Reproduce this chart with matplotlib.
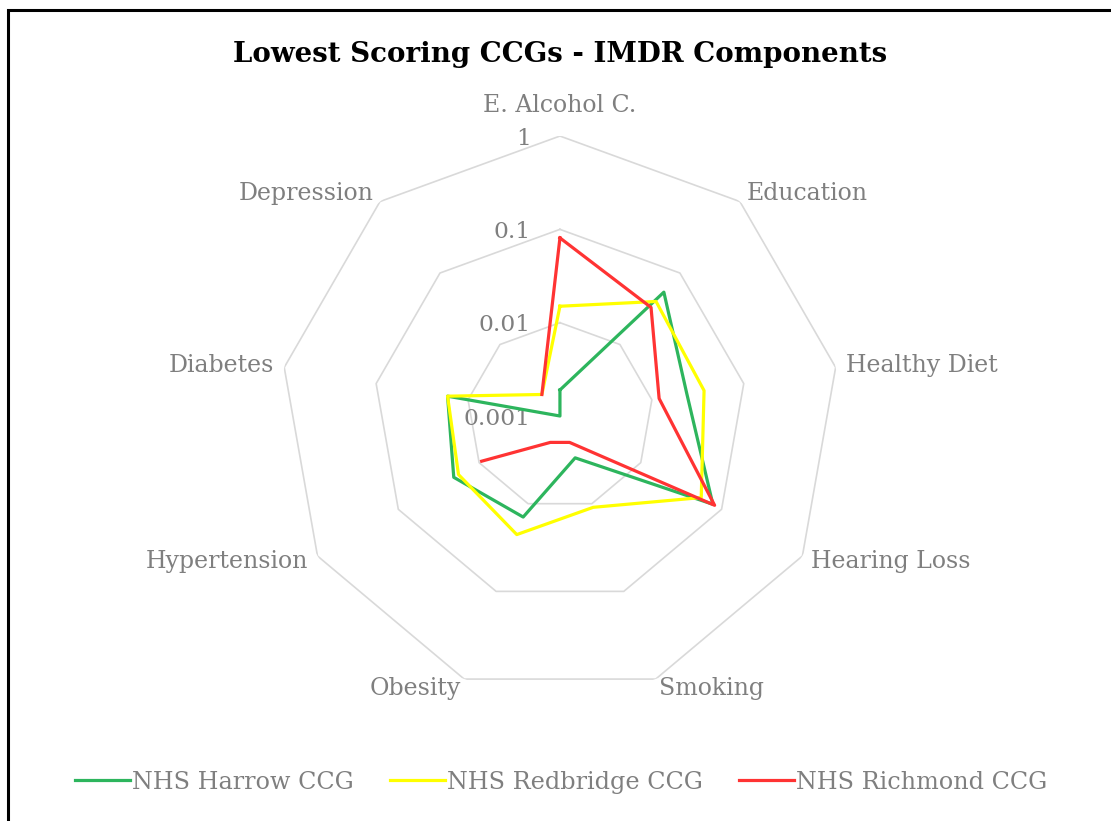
import numpy as np
import matplotlib
matplotlib.use('Agg')
import matplotlib.pyplot as plt
from matplotlib.patches import Rectangle

# categories (clockwise from top) and component scores per CCG
categories = ['E. Alcohol C.', 'Education', 'Healthy Diet', 'Hearing Loss', 'Smoking',
              'Obesity', 'Hypertension', 'Diabetes', 'Depression']
harrow = [0.0019, 0.054, 0.024, 0.078, 0.0030, 0.0142, 0.0206, 0.0167, 0.001]
redbridge = [0.015, 0.040, 0.037, 0.056, 0.011, 0.0225, 0.018, 0.0167, 0.002]
richmond = [0.081, 0.033, 0.012, 0.082, 0.002, 0.002, 0.0093, np.nan, 0.002]

series_names = ['NHS Harrow CCG', 'NHS Redbridge CCG', 'NHS Richmond CCG']
series_colors = ['#2db55d', '#ffff00', '#ff3333']
ring_values = [1, 0.1, 0.01, 0.001]
ring_labels = ['1', '0.1', '0.01', '0.001']

plt.rcParams['font.family'] = ['DejaVu Serif']
grey = '#7f7f7f'

fig = plt.figure(figsize=(11.11, 8.21), dpi=100)
ax = fig.add_axes([0.252, 0.1523, 0.504, 0.682], projection='polar')
ax.set_theta_zero_location('N')
ax.set_theta_direction(-1)

n = len(categories)
theta = np.arange(n) * 2 * np.pi / n
theta_c = np.append(theta, theta[0])

rmin = np.log10(ring_values[-1])
ax.set_ylim(rmin, 0)

# polygon rings (no ring drawn at the centre value)
for v in ring_values[:-1]:
    ax.plot(theta_c, np.full(n + 1, np.log10(v)), color='#d9d9d9', lw=1.2, zorder=1)

# ring labels along the top spoke
for v, lab in zip(ring_values, ring_labels):
    ax.annotate(lab, xy=(0, np.log10(v)), xytext=(-21, -2), textcoords='offset points',
                ha='right', va='center', fontsize=16.8, color=grey, annotation_clip=False)

# series
for vals, name, col in zip([harrow, redbridge, richmond], series_names, series_colors):
    r = np.log10(np.array(vals + [vals[0]], dtype=float))
    ax.plot(theta_c, r, color=col, lw=2.3, label=name, zorder=3)

# category labels just outside the outer ring
for t, cat in zip(theta, categories):
    dx, dy = np.sin(t), np.cos(t)
    if abs(dx) < 1e-6:
        ha, off = 'center', 22
    elif dx > 0:
        ha, off = 'left', 7.5
    else:
        ha, off = 'right', 7.5
    ax.annotate(cat, xy=(t, 0), xytext=(dx * off, dy * off), textcoords='offset points',
                ha=ha, va='center', fontsize=17, color=grey, annotation_clip=False)

ax.grid(False)
ax.spines['polar'].set_visible(False)
ax.set_xticks([])
ax.set_yticks([])
ax.patch.set_alpha(0)

fig.text(0.504, 1 - 54 / 821, 'Lowest Scoring CCGs - IMDR Components', ha='center', va='center',
         fontsize=19.9, fontweight='bold', color='black')

handles, labels = ax.get_legend_handles_labels()
leg = fig.legend(handles, labels, loc='center', bbox_to_anchor=(0.505, 1 - 782 / 821), ncol=3,
                 frameon=False, fontsize=17.2, handlelength=2.3, handletextpad=0.1,
                 columnspacing=1.5)
for txt in leg.get_texts():
    txt.set_color(grey)

# chart border (cut off on the right and bottom in the original)
fig.patches.append(Rectangle((8 / 1111, -0.1), 1.2, 1.1 - 10 / 821, transform=fig.transFigure,
                             fill=False, edgecolor='black', lw=2.2))

fig.savefig('out.png', dpi=100)
